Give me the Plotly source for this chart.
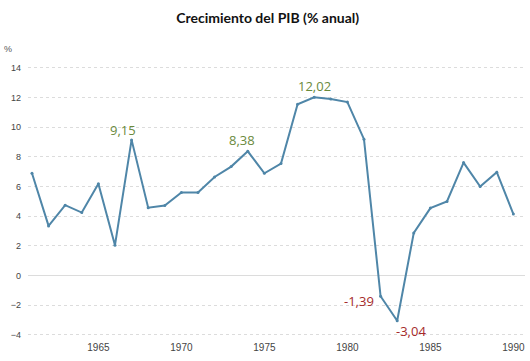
import plotly.graph_objects as go

years = list(range(1961, 1991))
growth = [6.9, 3.35, 4.75, 4.25, 6.2, 2.05, 9.15, 4.58, 4.72, 5.6, 5.6, 6.65, 7.35, 8.38,
          6.9, 7.55, 11.55, 12.02, 11.9, 11.7, 9.2, -1.39, -3.04, 2.88, 4.55, 5.0, 7.62,
          6.0, 6.97, 4.15]
ann_years = [1967, 1974, 1978, 1982, 1983]
ann_text = ["9,15", "8,38", "12,02", "-1,39", "-3,04"]
ann_colors = ["#6a8a3c", "#6a8a3c", "#6a8a3c", "#a52a2a", "#a52a2a"]
ann_shift = [(-9, 10), (-6, 11), (0, 11), (-22, -5), (14, -10)]
ytick_vals = list(range(-4, 15, 2))
xtick_vals = [1965, 1970, 1975, 1980, 1985, 1990]

fig = go.Figure()
fig.add_trace(go.Scatter(x=years, y=growth, mode="lines+markers",
                         line=dict(color="#4f86a8", width=2),
                         marker=dict(size=3, color="#4f86a8"),
                         showlegend=False, hoverinfo="skip"))

for yr, txt, col, (dx, dy) in zip(ann_years, ann_text, ann_colors, ann_shift):
    v = growth[years.index(yr)]
    fig.add_annotation(x=yr, y=v, text=txt, showarrow=False, xshift=dx, yshift=dy,
                       font=dict(family="Open Sans, Arial", size=13, color=col))

fig.add_annotation(xref="paper", yref="paper", x=-0.04, y=1.0, yshift=6,
                   text="%", showarrow=False, xanchor="center", yanchor="bottom",
                   font=dict(family="Liberation Sans, Arial", size=9, color="#555555"))

fig.update_layout(
    width=530, height=361,
    margin=dict(l=28, r=5, t=62, b=21, autoexpand=False),
    paper_bgcolor="white", plot_bgcolor="white",
    title=dict(text="<b>Crecimiento del PIB (% anual)</b>", x=0.505, xanchor="center",
               y=0.95, yanchor="middle", automargin=False,
               font=dict(family="Lato, Noto Sans, Arial", size=14, color="#111111")),
    xaxis=dict(range=[1960.76, 1990.7], tickvals=xtick_vals, showgrid=False,
               zeroline=False, showline=False, ticks="", automargin=False,
               tickfont=dict(family="Liberation Sans, Arial", size=10, color="#444444")),
    yaxis=dict(range=[-4.34, 14.4], tickvals=ytick_vals, showgrid=True,
               gridcolor="#dcdcdc", griddash="dot", gridwidth=1,
               zeroline=True, zerolinecolor="#dcdcdc", zerolinewidth=1,
               showline=False, ticks="", ticklabelstandoff=6, automargin=False,
               tickfont=dict(family="Liberation Sans, Arial", size=9, color="#444444")),
)

fig.write_html("out.html", config={"displayModeBar": False},
               post_script="document.body.style.margin='0';document.body.style.padding='0';")
